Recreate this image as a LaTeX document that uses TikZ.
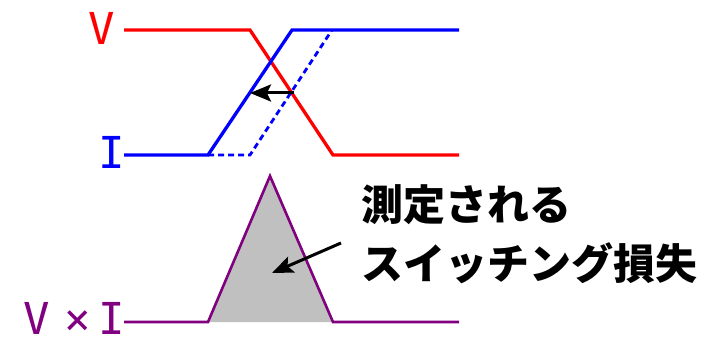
\documentclass[tikz,border=0pt]{standalone}
\usepackage{fontspec}
\usetikzlibrary{arrows.meta}
\newfontfamily\cjk{Noto Sans CJK JP}
\newfontfamily\labfont{DejaVu Sans Mono}
\definecolor{vred}{HTML}{FF0000}
\definecolor{iblue}{HTML}{0000FF}
\definecolor{pwr}{HTML}{800080}
\definecolor{lossgray}{HTML}{C0C0C0}
\tikzset{
  vwave/.style={draw=vred, line width=3.3pt, line join=miter},
  iwave/.style={draw=iblue, line width=3.3pt, line join=miter},
  idash/.style={draw=iblue, line width=2.8pt, dash pattern=on 6pt off 4pt},
  pwave/.style={draw=pwr, line width=2.6pt},
  ptr/.style={draw=black, line width=3pt, -{Stealth[length=21pt,width=17pt,inset=4pt]}},
  lab/.style={font=\labfont\fontsize{44}{44}\selectfont, inner sep=0pt, text depth=0pt, anchor=base},
  cjktext/.style={font=\cjk\bfseries\fontsize{42}{59}\selectfont, align=left, inner sep=0pt, text=black}
}
\begin{document}
\begin{tikzpicture}[x=1pt,y=-1pt]
\useasboundingbox (0,0) rectangle (724,337);
% coordinates
\coordinate (v0) at (124,30);
\coordinate (v1) at (250,30);
\coordinate (v2) at (333,155);
\coordinate (v3) at (459,155);
\coordinate (i0) at (124,155);
\coordinate (i1) at (208,155);
\coordinate (i2) at (292,30);
\coordinate (i3) at (459,30);
\coordinate (d1) at (250,155);
\coordinate (d2) at (332,30);
\coordinate (a0) at (294,93);
\coordinate (a1) at (250,93);
\coordinate (p0) at (124,322);
\coordinate (p1) at (208,322);
\coordinate (p2) at (270,176);
\coordinate (p3) at (333,322);
\coordinate (p4) at (459,322);
\coordinate (b0) at (341,243);
\coordinate (b1) at (272,273);
% labels
\node[lab, text=vred] (vlab) at (102,45) {V};
\node[lab, text=iblue] (ilab) at (112,168) {I};
\node[lab, text=pwr] (vilab) at (74,334) {V\hspace{15pt}×\hspace{7pt}I};
% waves
\draw[vwave] (v0) -- (v1) -- (v2) -- (v3);
\draw[idash] (i1) -- (d1) -- (d2);
\draw[iwave] (i0) -- (i1) -- (i2) -- (i3);
\draw[ptr] (a0) -- (a1);
% power
\fill[lossgray] (p1) -- (p2) -- (p3) -- cycle;
\draw[pwave] (p0) -- (p1) -- (p2) -- (p3) -- (p4);
\draw[ptr] (b0) -- (b1);
% text
\node[cjktext, anchor=west] (loss) at (361,234) {測定される\\スイッチング損失};
\end{tikzpicture}
\end{document}
